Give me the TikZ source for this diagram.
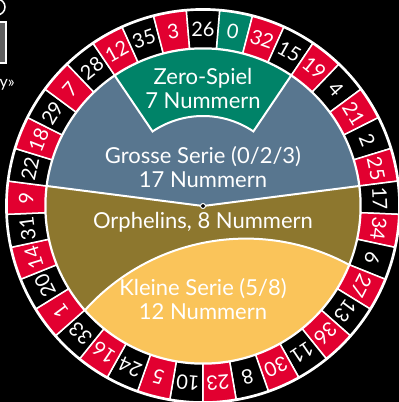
\documentclass[tikz,border=0pt]{standalone}
\usepackage{fontspec}
\setmainfont{Lato}
\definecolor{rred}{RGB}{226,0,48}
\definecolor{zgreen}{RGB}{0,131,104}
\definecolor{sblue}{RGB}{88,118,143}
\definecolor{oliv}{RGB}{141,119,46}
\definecolor{yel}{RGB}{250,196,90}
\definecolor{icongray}{RGB}{95,95,95}
\newcommand\ringfont{\fontsize{20}{20}\selectfont}
\newcommand\regfont{\fontsize{22}{24}\selectfont}
\begin{document}
\begin{tikzpicture}[x=1pt,y=1pt,
  every node/.style={text=white, inner sep=0pt},
  sep/.style={draw=white, line width=2pt},
  lbl/.style={align=center, font=\regfont}]
\fill[black] (-203,-196) rectangle (196,206);
\useasboundingbox (-203,-196) rectangle (196,206);
% partial icon at top left
\draw[white, line width=1.5pt, fill=icongray] (-215,184) rectangle (-197,143);
\draw[white, line width=1.5pt, fill=black] (-206,199) circle (8);
\node[anchor=east, font=\fontsize{16}{16}\selectfont] (quote) at (-188,121) {y»};
% inner regions
\fill[oliv] (0,0) circle (157);
\fill[sblue] (0,0) -- (7.3:157) arc[start angle=7.3,end angle=172.7,radius=157] -- cycle;
\fill[zgreen] (55.95:90) -- (55.95:157) arc[start angle=55.95,end angle=124.1,radius=157] -- (124.1:90) arc[start angle=124.1,end angle=55.95,radius=90] -- cycle;
\fill[yel] (-138.6:157) arc[start angle=-138.6,end angle=-21.9,radius=157] arc[start angle=61.67,end angle=137.8,radius=216.7] -- cycle;
% region borders
\draw[sep] (172.7:157) -- (0,0) -- (7.3:157);
\draw[sep] (55.95:157) -- (55.95:90) arc[start angle=55.95,end angle=124.1,radius=90] -- (124.1:157);
\draw[sep] (-21.9:157) arc[start angle=61.67,end angle=137.8,radius=216.7];
\draw[sep] (0,0) circle (157.5);
\node[circle, fill=black, draw=white, line width=1pt, minimum size=5pt] (ctr) at (0,0) {};
% labels
\node[lbl] (zs) at (0,118) {Zero-Spiel\\7 Nummern};
\node[lbl] (gs) at (0,39) {Grosse Serie (0/2/3)\\17 Nummern};
\node[lbl] (or) at (0,-16) {Orphelins, 8 Nummern};
\node[lbl] (ks) at (0,-93) {Kleine Serie (5/8)\\12 Nummern};
% number ring
\foreach \n [count=\i from 0] in {0,32,15,19,4,21,2,25,17,34,6,27,13,36,11,30,8,23,10,5,24,16,33,1,20,14,31,9,22,18,29,7,28,12,35,3,26}{
  \pgfmathsetmacro\ang{80.27-\i*360/37}
  \pgfmathsetmacro\sa{\ang-180/37}
  \pgfmathsetmacro\ea{\ang+180/37}
  \ifnum\i=0 \def\cc{zgreen}\else\ifodd\i\relax\def\cc{rred}\else\def\cc{black}\fi\fi
  \filldraw[fill=\cc, draw=white, line width=1.5pt] (\sa:158) arc[start angle=\sa,end angle=\ea,radius=158] -- (\ea:196) arc[start angle=\ea,end angle=\sa,radius=196] -- cycle;
  \node[rotate=\ang-90, font=\ringfont] (p\n) at (\ang:177) {\n};
}
\draw[white, line width=1.8pt] (0,0) circle (197);
\end{tikzpicture}
\end{document}
